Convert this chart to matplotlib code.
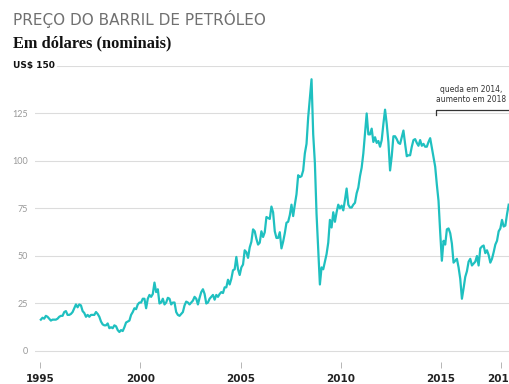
import matplotlib.pyplot as plt
import numpy as np

# precos medios mensais (US$), jan..dez
anos = list(range(1995, 2019))
precos = {
    1995: [16.5, 17.5, 17, 18.5, 18, 17, 16, 16.5, 16.5, 16.5, 17, 18],
    1996: [18.5, 18.5, 20.5, 21, 19, 19, 19.5, 20.5, 22.5, 24.5, 23, 24.5],
    1997: [24, 21, 20, 18, 19, 18, 19, 19, 19, 20.5, 19.5, 18],
    1998: [15.5, 14, 13.5, 13.5, 14.5, 12, 12.5, 12, 13.5, 13, 11, 10],
    1999: [11, 10.5, 12.5, 15, 15.5, 16, 19, 20.5, 22.5, 22, 24.5, 25.5],
    2000: [25.5, 27.5, 27.5, 22.5, 27.5, 29.5, 28.5, 30, 36, 31, 32.5, 25],
    2001: [25.5, 27.5, 24.5, 25.5, 28, 27.5, 24.5, 25.5, 25.5, 20.5, 19, 18.5],
    2002: [19.5, 20.5, 24, 26, 25.5, 24.5, 25.5, 26.5, 28.5, 27.5, 24.5, 28],
    2003: [31, 32.5, 30, 25, 25.5, 27.5, 28.5, 29.5, 27, 29.5, 28.5, 30],
    2004: [31, 30.5, 33.5, 33.5, 37.5, 35, 38, 42.5, 43, 49.5, 43, 40],
    2005: [44, 45.5, 53, 52, 49, 54.5, 57.5, 64, 63, 59, 56, 57],
    2006: [63, 60, 62.5, 70.5, 70, 69.5, 76, 73, 63, 59.5, 59.5, 62.5],
    2007: [54, 57.5, 62, 67.5, 68, 71.5, 77, 71, 77, 82.5, 92.5, 91.5],
    2008: [92, 95, 104, 109, 123, 133, 143, 114, 99, 72, 53, 35],
    2009: [44, 43, 47, 51, 57, 69, 65, 73, 68, 73, 77, 75],
    2010: [76.5, 74, 79.5, 85.5, 77, 75.5, 75.5, 77, 78, 83, 86, 92],
    2011: [96.5, 104, 114.5, 125, 114, 114, 117, 110, 112.5, 109.5, 110.5, 107.5],
    2012: [111, 119.5, 127, 119.5, 110, 95, 102.5, 113, 113, 111.5, 109.5, 109],
    2013: [112.5, 116, 109, 102.5, 103, 103, 107.5, 111, 111.5, 109.5, 108, 111],
    2014: [108, 109, 107.5, 107.5, 110, 112, 107, 102, 97, 87.5, 79, 62.5],
    2015: [47.5, 58, 56, 64, 64.5, 62, 56.5, 46.5, 47.5, 48.5, 44, 38],
    2016: [27.5, 33, 39, 42, 47, 48.5, 45, 46, 47, 50, 45, 54],
    2017: [55, 55.5, 51.5, 53, 50.5, 46.5, 48.5, 52, 56, 58, 63, 64.5],
    2018: [69, 65.5, 66, 72, 77],
}
anos_eixo = [1995, 2000, 2005, 2010, 2015, 2018]
valores_y = [0, 25, 50, 75, 100, 125]

x = []
y = []
for a in anos:
    for m, p in enumerate(precos[a]):
        x.append(a + (m + 0.5) / 12)
        y.append(p)

cor = '#1fc0c0'

fig = plt.figure(figsize=(5.09, 3.84), dpi=100)
ax = fig.add_axes([35/509, 0.05625, 1 - 35/509, 0.772])
ax.set_xlim(1994.75, 2018.39)
ax.set_ylim(-6, 150)

for v in valores_y:
    ax.axhline(v, color='#dcdcdc', lw=0.8, zorder=0)
ax.axhline(150, xmin=0.046, color='#dcdcdc', lw=0.8, zorder=0)

ax.plot(x, y, color=cor, lw=1.6, zorder=3)

for s in ax.spines.values():
    s.set_visible(False)

ax.set_yticks(valores_y)
ax.set_yticklabels([str(v) for v in valores_y], fontsize=6.5, color='#999999', family='Lato')
ax.tick_params(axis='y', length=0, pad=5)
ax.set_xticks(anos_eixo)
ax.set_xticklabels([str(a) for a in anos_eixo], fontsize=7.5, fontweight='bold', color='#222222',
                   family='DejaVu Sans')
ax.tick_params(axis='x', length=4, width=0.6, color='#aaaaaa', pad=4)

ax.text(-22/474, 150, 'US$ 150', transform=ax.get_yaxis_transform(), fontsize=6.5,
        fontweight='bold', color='#111111', va='center', ha='left', family='DejaVu Sans')

# colchete da anotacao
ax.plot([2014.75, 2014.75, 2018.39], [124.2, 126.8, 126.8], color='#333333', lw=0.9, zorder=4, clip_on=False)
ax.text(2016.5, 130, 'queda em 2014,\naumento em 2018', fontsize=5.5, color='#333333',
        ha='center', va='bottom', family='DejaVu Sans', linespacing=1.1)

fig.text(13/509, 1 - 25/384, 'PREÇO DO BARRIL DE PETRÓLEO', fontsize=11, color='#707070',
         family='DejaVu Sans', va='baseline')
fig.text(13/509, 1 - 47/384, 'Em dólares (nominais)', fontsize=11.8, color='#111111',
         family='Liberation Serif', fontweight='bold', va='baseline')

fig.savefig('out.png', dpi=100)
